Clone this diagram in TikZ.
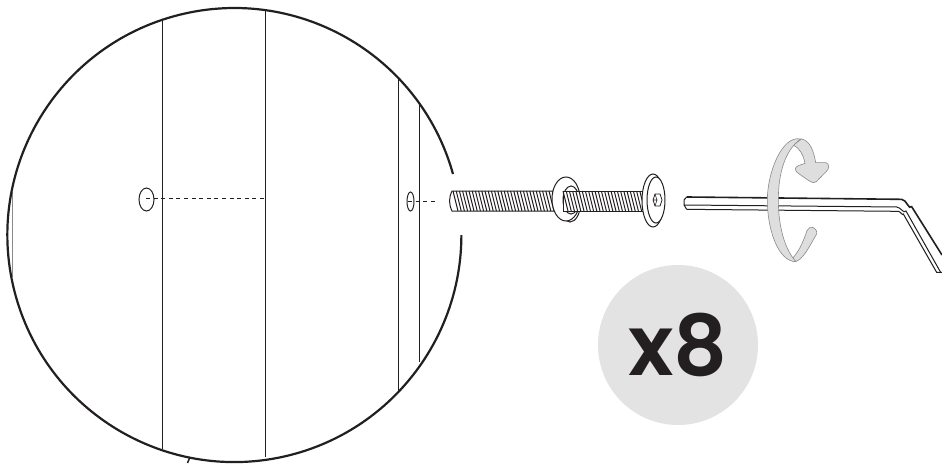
\documentclass[tikz,border=0pt]{standalone}
\usepackage{fontspec}
\newfontfamily\badgefont{Poppins SemiBold}
\usepackage{tikz}
\usetikzlibrary{positioning,calc}
\definecolor{cink}{HTML}{231F20}
\definecolor{cbadge}{HTML}{E3E3E3}
\definecolor{cband}{HTML}{DEDEDE}
\definecolor{cedge}{HTML}{8A8A8A}
\tikzset{
  rim/.style={draw=cink, line width=2.2pt},
  panel/.style={draw=cink, line width=0.85pt},
  hole/.style={draw=cink, line width=1pt, fill=white},
  drill/.style={draw=cink, line width=0.9pt, dash pattern=on 4pt off 3.6pt},
  part/.style={draw=cink, line width=1pt, fill=white},
  keyline/.style={draw=cink, line width=1pt},
  band/.style={draw=cedge, line width=0.6pt, fill=cband},
  badge/.style={circle, fill=cbadge, minimum size=160pt, inner sep=0pt, text=cink, font=\badgefont\fontsize{84}{84}\selectfont},
}
\begin{document}
\begin{tikzpicture}[x=1pt,y=-1pt]
\useasboundingbox (0,0) rectangle (942,463);
\coordinate (h1) at (146,198);
\coordinate (h1e) at (265,198);
\coordinate (h2) at (408,201);
\coordinate (h2e) at (437,201);
\draw[panel] (162,20) -- (162,449);
\draw[panel] (265,10) -- (265,457);
\draw[panel] (398,78) -- (398,391);
\draw[panel] (419,102) -- (419,362);
\draw[panel, draw=cedge] (12,192) -- (12,277);
\draw[hole] (146.5,199.5) ellipse [x radius=7.5, y radius=11.5];
\draw[hole] (410.5,201.5) ellipse [x radius=3.5, y radius=9.5];
\draw[drill] (h1) -- (h1e);
\draw[drill] (h2) -- (h2e);
\draw[rim] (453,174) arc [start angle=-15.6, end angle=-360, radius=227];
\draw[rim, line width=1.5pt] (190,457) -- (187.5,463);
% screw
\draw[part] (452,191) -- (560,191) -- (560,211) -- (452,211) to[bend left=25] cycle;
\foreach \i in {0,...,33} {
  \draw[cink, line width=1pt] ({453+\i*3.2},191) -- ({458+\i*3.2},211);
}
\draw[part] (570,203) ellipse [x radius=10.5, y radius=19];
\draw[part] (566,199) ellipse [x radius=14, y radius=22];
\draw[part] (571,200) ellipse [x radius=8, y radius=14];
\draw[part] (563,191) rectangle (643,211);
\foreach \i in {0,...,24} {
  \draw[cink, line width=1pt] ({563+\i*3.2},191) -- ({568+\i*3.2},211);
}
\draw[part] (653,200.5) ellipse [x radius=11, y radius=26.5];
\draw[part] (656,200) ellipse [x radius=9, y radius=23];
\draw[cink, line width=0.8pt] (653,200) -- (655,194) -- (660,194) -- (662,200) -- (660,206) -- (655,206) -- cycle;
\draw[cink, line width=0.6pt] (653,200) -- (657,200) -- (655,194) (657,200) -- (655,206);
% key and band, in the coordinates of the crop
\begin{scope}[shift={(670,110)},scale=0.3333]
\fill[white] (50,261) -- (695,268) to[out=10,in=-125] (725,290) -- (816,435) -- (816,487) -- (800,487) -- (700,312) to[out=-125,in=5] (685,304) -- (50,298) -- (42,285) -- (42,270) -- cycle;
\draw[keyline, line width=1.6pt] (50,261) -- (695,268) to[out=0,in=-125] (725,290) -- (816,435);
\draw[keyline] (42,285) -- (680,291) to[out=0,in=-125] (708,303) -- (812,487);
\draw[keyline] (50,298) -- (685,304) to[out=0,in=-120] (700,312) -- (800,487) -- (816,487);
\draw[keyline] (50,261) -- (42,270) -- (42,285) -- (50,298);
\draw[band] (395,87) .. controls (420,92) and (432,125) .. (437,158) -- (468,158) .. controls (480,162) and (477,178) .. (470,183) -- (440,214) .. controls (432,220) and (425,218) .. (418,213) -- (385,190) .. controls (373,182) and (373,172) .. (385,167) -- (405,160) .. controls (400,135) and (390,115) .. (370,105) -- cycle;
\draw[band] (375,455) .. controls (400,450) and (420,405) .. (440,372) .. controls (442,350) and (418,345) .. (411,362) .. controls (400,395) and (385,430) .. (362,450) -- cycle;
\draw[band] (392,87) .. controls (335,75) and (292,190) .. (292,270) .. controls (292,360) and (325,455) .. (378,455) .. controls (345,420) and (325,350) .. (325,270) .. controls (325,190) and (345,120) .. (392,87) -- cycle;
\end{scope}
\node[badge] (count) at (678,345) {x8};
\end{tikzpicture}
\end{document}
